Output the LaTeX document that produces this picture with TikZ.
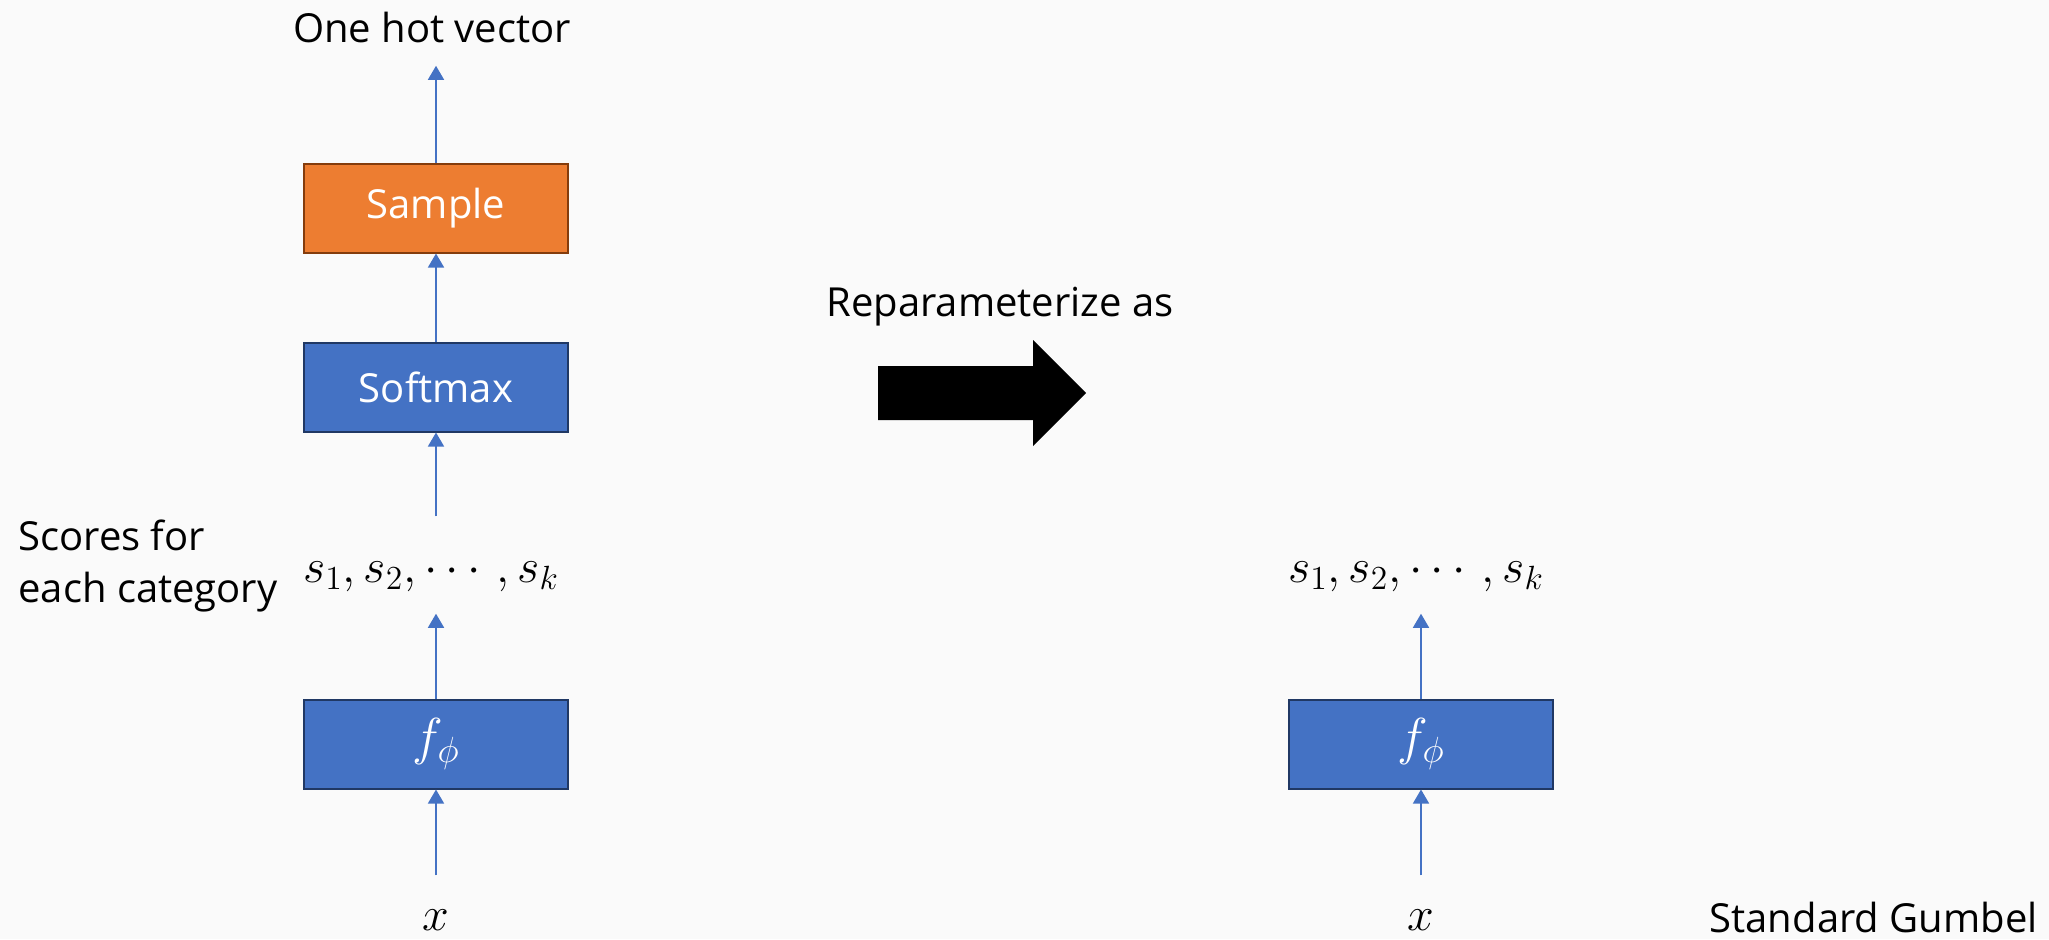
\RequirePackage{fix-cm}
\documentclass[tikz,border=0pt]{standalone}
\usepackage{amsmath}
\usepackage[no-math]{fontspec}
\setmainfont{Open Sans}
\usepackage{tikz}
\usetikzlibrary{arrows.meta, positioning}
\definecolor{bgcol}{RGB}{250,250,250}
\definecolor{accblue}{RGB}{68,114,196}
\definecolor{blueline}{RGB}{32,56,100}
\definecolor{accorange}{RGB}{237,125,49}
\definecolor{orangeline}{RGB}{132,60,12}
\tikzset{
    boxnode/.style = {draw, rectangle, line width=1pt, minimum width=132pt, minimum height=44.5pt,
      inner sep=0pt, text=white, font=\fontsize{20}{24}\selectfont},
    textnode/.style = {draw=none, fill=none, rectangle, inner sep=0pt, align=left, font=\fontsize{20}{26}\selectfont},
    mathnode/.style = {draw=none, fill=none, rectangle, inner sep=0pt, font=\fontsize{24}{28}\selectfont},
    connect/.style = {draw=accblue, line width=0.75pt, -{Triangle[width=8pt,length=7pt]}}
}
\begin{document}
\begin{tikzpicture}[x=0.5pt, y=-0.5pt]
\fill[bgcol] (0,0) rectangle (2049,939);
% left: sampling directly
\node[boxnode, fill=accblue, draw=blueline, name=fphi] at (436,744) {\fontsize{26}{28}\selectfont$f_\phi$};
\node[mathnode, name=xin] at (436,920) {$x$};
\node[mathnode, name=scores] at (431,576) {$s_1, s_2, \cdots, s_k$};
\node[boxnode, fill=accblue, draw=blueline, name=softmax] at (436,387) {Softmax};
\node[boxnode, fill=accorange, draw=orangeline, name=sample] at (436,208) {Sample};
\node[textnode, name=onehot] at (432,27) {One hot vector};
\node[textnode, name=scorelabel, anchor=west] at (18,566) {Scores for\\each category};
\draw[connect, shorten <=17pt] (xin) -- (fphi);
\draw[connect, shorten >=11pt] (fphi.north) -- (fphi.north |- scores.south);
\draw[connect, shorten <=22pt] (fphi.north |- scores.north) -- (softmax.south);
\draw[connect] (softmax) -- (sample);
\draw[connect, shorten >=11.5pt] (sample.north) -- (sample.north |- onehot.south);
% middle
\node[textnode, name=reparam] at (1000,307) {Reparameterize as};
\fill[black] (878,366) -- (1033,366) -- (1033,340) -- (1086,393) -- (1033,446) -- (1033,420) -- (878,420) -- cycle;
% right
\node[boxnode, fill=accblue, draw=blueline, name=fphi2, right=359.5pt of fphi] {\fontsize{26}{28}\selectfont$f_\phi$};
\node[mathnode, name=xin2] at (fphi2 |- xin) {$x$};
\node[mathnode, name=scores2, xshift=-2.5pt] at (fphi2 |- scores) {$s_1, s_2, \cdots, s_k$};
\node[textnode, name=gumbel, anchor=east] at (2038,917) {Standard Gumbel};
\draw[connect, shorten <=17pt] (xin2) -- (fphi2);
\draw[connect, shorten >=11pt] (fphi2.north) -- (fphi2.north |- scores2.south);
\end{tikzpicture}
\end{document}
